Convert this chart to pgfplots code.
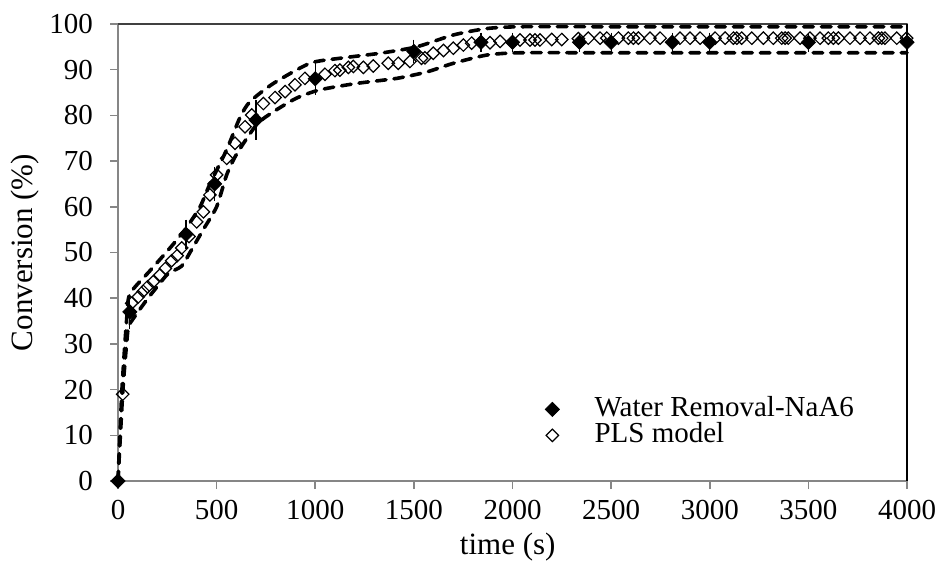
\documentclass[border=0pt]{standalone}
\usepackage{fontspec}
\setmainfont{Liberation Serif}
\usepackage{pgfplots}
\pgfplotsset{compat=1.18}
\definecolor{axgray}{RGB}{134,134,134}
\pgfplotsset{wide legend/.style={legend image code/.code={\path (0cm,0cm) (1.4cm,0cm); \draw[mark repeat=2,mark phase=2,##1] plot coordinates {(0cm,0cm) (0.7cm,0cm) (1.4cm,0cm)};}}}
\begin{document}
\begin{tikzpicture}
\path[use as bounding box] (-59pt,-40pt) rectangle (411pt,240.5pt);
\begin{axis}[
  at={(0,0)}, anchor=south west,
  scale only axis, width=394.5pt, height=228.5pt,
  xmin=0, xmax=4000, ymin=0, ymax=100,
  xtick={0,500,...,4000}, ytick={0,10,...,100},
  axis line style={axgray, line width=0.8pt},
  tick pos=left, tick align=outside,
  major tick length=4pt,
  xtick style={draw=axgray, line width=0.8pt},
  ytick style={draw=axgray, line width=0.8pt},
  /pgf/number format/assume math mode=true,
  /pgf/number format/1000 sep={},
  tick label style={font=\fontsize{14.5}{17}\selectfont, black},
  xticklabel style={yshift=-2pt},
  yticklabel style={xshift=-5pt},
  label style={font=\fontsize{15.5}{18}\selectfont},
  xlabel={time (s)}, ylabel={Conversion (\%)},
  xlabel style={at={(axis description cs:0.494,-0.145)}, anchor=center},
  ylabel style={at={(axis description cs:-0.118,0.5)}, anchor=center},
  legend style={at={(rel axis cs:0.499,0.186)}, anchor=north west, draw=none, fill=none,
    font=\fontsize{14.5}{17}\selectfont, inner sep=0pt,
    nodes={inner sep=1pt, text height=9pt, text depth=2pt}},
  legend cell align=left,
  reverse legend,
  clip=false,
]
% tick marks
\pgfplotsinvokeforeach{0,500,1000,1500,2000,2500,3000,3500,4000}{\draw[axgray, line width=0.8pt] (axis cs:#1,0) -- ++(0pt,-4pt);}
\pgfplotsinvokeforeach{0,10,20,30,40,50,60,70,80,90,100}{\draw[axgray, line width=0.8pt] (axis cs:0,#1) -- ++(-4pt,0pt);}
% frame top/right
\draw[black!75, line width=0.8pt] (rel axis cs:0,1) -- (rel axis cs:1,1);
\draw[black, line width=0.9pt] (rel axis cs:1,1) -- (rel axis cs:1,0);
% confidence band (dashed)
\addplot[forget plot, black, line width=1.8pt, dash pattern=on 4.8pt off 4pt, line cap=round, smooth, tension=0.4] coordinates {
 (0,0) (20,20) (45,36) (61,41) (162,46) (264,51) (340,55) (416,60) (466,65) (551,72.5) (618,79.5) (669,83) (788,87) (973,91.4) (1125,92.5) (1328,93.6) (1514,95) (1700,97.6) (1869,99) (2040,99.4) (2500,99.4) (3000,99.4) (3500,99.4) (4000,99.4)};
\addplot[forget plot, black, line width=1.8pt, dash pattern=on 4.8pt off 4pt, line cap=round, smooth, tension=0.4] coordinates {
 (0,0) (25,20) (50,33) (61,34.5) (145,39.6) (213,43.3) (255,45.4) (322,47) (365,50) (432,55) (500,60) (551,67) (601,71.5) (703,78) (788,80.8) (906,83.8) (1024,85.6) (1210,87) (1413,88.1) (1565,89.5) (1700,91.4) (1869,93.2) (2038,93.7) (2500,93.7) (3000,93.7) (3500,93.7) (4000,93.7)};
% PLS model
\addplot[only marks, mark=square, mark size=2.2pt, mark options={rotate=45, black, line width=0.6pt, fill=none}, wide legend]
 coordinates {
 (0,0) (24,19) (69,38.9) (103,40.3) (128,41.5) (150,42.5) (179,43.6) (213,45.1) (240,46.5) (272,48.2) (300,49.3) (323,51) (360,53.5) (399,56.7) (433,58.9) (466,62.6) (500,67) (551,70.6) (593,73.9) (644,77.5) (678,80.1) (737,82.6) (796,83.9) (847,85.2) (897,86.7) (948,88.1) (1049,89) (1100,89.8) (1125,89.9) (1168,90.5) (1193,90.7) (1244,90.5) (1294,90.8) (1370,91.4) (1421,91.4) (1480,91.8) (1539,92.5) (1556,92.6) (1598,93.6) (1650,94.2) (1700,94.7) (1751,95.4) (1793,95.8) (1886,95.9) (1937,96.2) (2038,96.5) (2089,96.5) (2114,96.5) (2139,96.5) (2199,96.6) (2250,96.6) (2334,96.8) (2384,96.9) (2444,96.9) (2478,96.9) (2537,96.9) (2587,96.9) (2613,96.9) (2638,96.9) (2697,96.9) (2748,96.9) (2849,96.9) (2900,96.9) (2951,96.9) (3027,96.9) (3078,96.9) (3120,96.9) (3137,96.9) (3162,96.9) (3213,96.9) (3272,96.9) (3322,96.9) (3365,96.9) (3382,96.9) (3398,96.9) (3458,96.9) (3508,96.9) (3559,96.9) (3601,96.9) (3627,96.9) (3652,96.9) (3711,96.9) (3762,96.9) (3812,96.9) (3855,96.9) (3872,96.9) (3888,96.9) (3948,96.9) (3998,96.9)};
\addlegendentry{PLS model}
% Experimental
\addplot[only marks, mark=square*, mark size=2.5pt, mark options={rotate=45, black, fill=black}, wide legend,
  error bars/.cd, y dir=both, y explicit, error mark=-,
  error bar style={black, line width=0.6pt},
  error mark options={black, line width=0.6pt, mark size=2.5pt}]
 coordinates {
 (0,0) +- (0,0)
 (60,37) +- (0,2.7)
 (345,54) +- (0,2.1)
 (490,65) +- (0,2.6)
 (700,79) +- (0,3.2)
 (1000,88) +- (0,2.4)
 (1500,94) +- (0,1.5)
 (1840,96) +- (0,1)
 (2000,96) +- (0,1)
 (2340,96) +- (0,1)
 (2500,96) +- (0,1)
 (2810,96) +- (0,1)
 (3000,96) +- (0,1)
 (3500,96) +- (0,1)
 (4000,96) +- (0,1)};
\addlegendentry{Water Removal-NaA6}
\end{axis}
\end{tikzpicture}
\end{document}
